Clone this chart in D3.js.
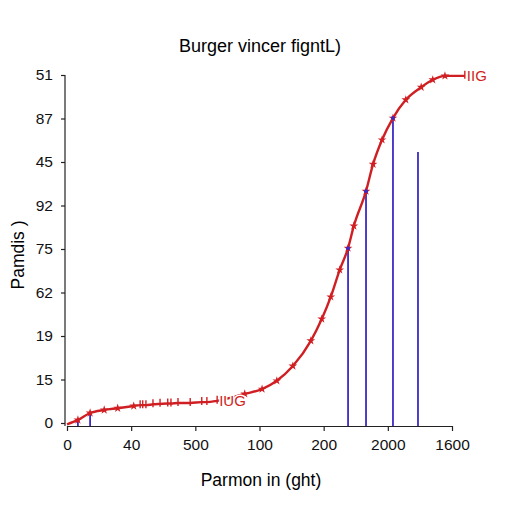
<!DOCTYPE html>
<html>
<head>
<meta charset="utf-8">
<script src="https://cdn.jsdelivr.net/npm/d3@7"></script>
<style>
  body { margin: 0; background: #fff; }
  text { font-family: Arial, "Liberation Sans", sans-serif; }
</style>
</head>
<body>
<div id="root"></div>
<script>
// Tick labels (positions are evenly spaced, labels as printed)
const xTickLabels = ['0', '40', '500', '100', '200', '2000', '1600']
const yTickLabels = ['0', '15', '19', '62', '75', '92', '45', '87', '51']

// Red curve, in tick-index units
const curveX = [0, 0.17, 0.36, 0.58, 0.79, 1.04, 1.14, 1.18, 1.23, 1.34, 1.45, 1.57, 1.62, 1.73, 1.92, 2.10, 2.18, 2.34,
  2.77, 3.04, 3.27, 3.52, 3.80, 3.97, 4.11, 4.25, 4.38, 4.47, 4.66, 4.77, 4.91, 5.08, 5.28, 5.52, 5.70, 5.89, 6.20]
const curveY = [-0.03, 0.07, 0.23, 0.30, 0.34, 0.39, 0.41, 0.41, 0.41, 0.43, 0.44, 0.45, 0.45, 0.46, 0.46, 0.48, 0.48, 0.51,
  0.67, 0.78, 0.97, 1.31, 1.89, 2.39, 2.90, 3.52, 4.02, 4.53, 5.33, 5.95, 6.51, 7.01, 7.43, 7.72, 7.89, 7.98, 7.98]
// marker kind per point: s = star, h = hash tick, n = none
const curveMark = ['n', 's', 's', 's', 's', 's', 'h', 'h', 'h', 'h', 'h', 'h', 'h', 'h', 'h', 'h', 'h', 'h',
  's', 's', 's', 's', 's', 's', 's', 's', 's', 's', 's', 's', 's', 's', 's', 's', 's', 's', 'h']

// Blue vertical lines
const blueX = [0.17, 0.36, 4.38, 4.66, 5.08, 5.47]
const blueTop = [0.07, 0.23, 4.02, 5.33, 7.01, 6.23]

const labels = [
  { i: 17, text: 'IUG' },
  { i: 36, text: 'IIG' }
]

const margin = { top: 75, right: 60, bottom: 89, left: 67 }
const width = 512 - margin.left - margin.right
const height = 512 - margin.top - margin.bottom

const red = '#d01f22'
const blue = '#3b2bc4'

const svg = d3.select('#root').append('svg')
  .attr('width', 512)
  .attr('height', 512)

const g = svg.append('g')
  .attr('transform', `translate(${margin.left},${margin.top})`)

const xScale = d3.scaleLinear().domain([0, 6]).range([0, width])
const yScale = d3.scaleLinear().domain([0, 8]).range([height, 0])

// Title
svg.append('text')
  .attr('x', 260).attr('y', 52)
  .attr('text-anchor', 'middle')
  .attr('font-size', 18)
  .text('Burger vincer figntL)')

// Axes
const xAxis = g.append('g')
  .attr('transform', `translate(0,${height + 3})`)
  .call(d3.axisBottom(xScale).ticks(6).tickSizeInner(5).tickSizeOuter(0)
    .tickPadding(8).tickFormat((d, i) => xTickLabels[i]))

const yAxis = g.append('g')
  .attr('transform', 'translate(-2,0)')
  .call(d3.axisLeft(yScale).ticks(8).tickSizeInner(4).tickSizeOuter(0)
    .tickPadding(8).tickFormat((d, i) => yTickLabels[i]))

// extend y axis down to the x axis
yAxis.select('.domain').attr('d', `M0,0V${height + 3}`)

;[xAxis, yAxis].forEach(a => {
  a.selectAll('text').attr('font-size', 15.5).attr('fill', '#111')
  a.selectAll('line, path').attr('stroke', '#222').attr('stroke-width', 1.2)
})

svg.append('text')
  .attr('x', 261).attr('y', 486)
  .attr('text-anchor', 'middle')
  .attr('font-size', 17.5)
  .text('Parmon in (ght)')

svg.append('text')
  .attr('transform', 'translate(24,255) rotate(-90)')
  .attr('text-anchor', 'middle')
  .attr('font-size', 17.5)
  .text('Pamdis )')

// Blue lines
g.selectAll('.blue')
  .data(blueX)
  .enter().append('line')
  .attr('class', 'blue')
  .attr('x1', d => xScale(d)).attr('x2', d => xScale(d))
  .attr('y1', height + 3)
  .attr('y2', (d, i) => yScale(blueTop[i]))
  .attr('stroke', blue)
  .attr('stroke-width', 1.8)

// Red curve
const pts = curveX.map((x, i) => [x, curveY[i], curveMark[i]])
const line = d3.line()
  .x(d => xScale(d[0]))
  .y(d => yScale(d[1]))
  .curve(d3.curveMonotoneX)

g.append('path')
  .datum(pts)
  .attr('fill', 'none')
  .attr('stroke', red)
  .attr('stroke-width', 2.4)
  .attr('d', line)

const star = d3.symbol().type(d3.symbolStar).size(24)
g.selectAll('.star')
  .data(pts.filter(d => d[2] === 's'))
  .enter().append('path')
  .attr('class', 'star')
  .attr('transform', d => `translate(${xScale(d[0])},${yScale(d[1])})`)
  .attr('d', star)
  .attr('fill', red)

g.selectAll('.hash')
  .data(pts.filter(d => d[2] === 'h'))
  .enter().append('line')
  .attr('class', 'hash')
  .attr('x1', d => xScale(d[0])).attr('x2', d => xScale(d[0]))
  .attr('y1', d => yScale(d[1]) - 5).attr('y2', d => yScale(d[1]) + 3)
  .attr('stroke', red)
  .attr('stroke-width', 1.4)

// blue dots at the line tops that meet the curve
g.selectAll('.bdot')
  .data(blueX.slice(2, 5))
  .enter().append('circle')
  .attr('cx', d => xScale(d))
  .attr('cy', (d, i) => yScale(blueTop[i + 2]))
  .attr('r', 2)
  .attr('fill', blue)

// Curve labels
g.selectAll('.lab')
  .data(labels)
  .enter().append('text')
  .attr('x', d => xScale(curveX[d.i]) + 2)
  .attr('y', d => yScale(curveY[d.i]) + 5)
  .attr('font-size', 15)
  .attr('fill', red)
  .attr('stroke', '#fff').attr('stroke-width', 3).attr('paint-order', 'stroke')
  .text(d => d.text)
</script>
</body>
</html>
